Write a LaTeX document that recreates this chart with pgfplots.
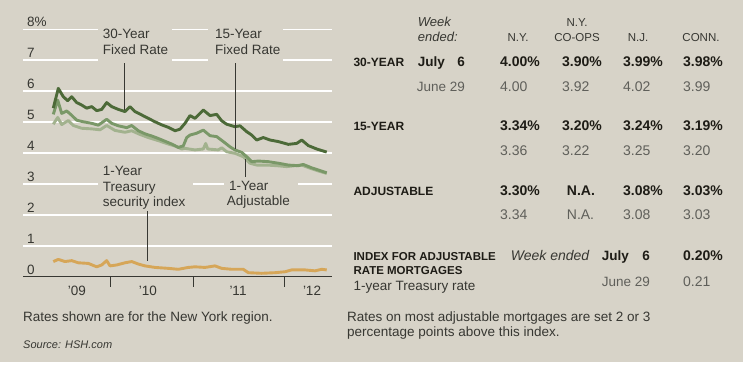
\documentclass[border=0pt]{standalone}
\usepackage{pgfplots}
\pgfplotsset{compat=1.18}
\usepackage{fontspec}
\setmainfont{Liberation Sans}
\definecolor{bg}{RGB}{215,211,200}
\definecolor{txt}{RGB}{55,55,50}
\definecolor{dark}{RGB}{30,28,22}
\definecolor{val}{RGB}{95,95,90}
\definecolor{cthirty}{RGB}{76,106,56}
\definecolor{cfifteen}{RGB}{122,152,104}
\definecolor{cadj}{RGB}{162,178,142}
\definecolor{ctreas}{RGB}{214,166,88}
\newcommand{\fs}[1]{\fontsize{#1bp}{#1bp}\selectfont}
\begin{document}
\begin{tikzpicture}
\begin{scope}[x=1bp,y=-1bp]
\useasboundingbox (0,0) rectangle (750,375);
\fill[white] (0,0) rectangle (750,375);
\fill[bg] (0,0) rectangle (743,362);
\end{scope}
\begin{axis}[at={(23bp,-276.7bp)}, anchor=south west, scale only axis,
  width=309bp, height=247.4bp,
  xmin=23, xmax=332, ymin=0, ymax=8,
  axis x line*=bottom, axis y line*=left,
  y axis line style={draw=none},
  ytick={1,2,3,4,5,6,7,8}, yticklabels={}, ytick style={draw=none},
  ymajorgrids, major grid style={white, line width=1.6bp},
  xtick={110,193,284}, xticklabels={},
  xtick align=outside, major tick length=10bp,
  x axis line style={draw=txt, line width=0.8bp},
  xtick style={draw=txt, line width=0.8bp},
  extra x ticks={77,148,238,312},
  extra x tick labels={’09,’10,’11,’12},
  extra x tick style={major tick length=0pt, grid=none,
    ticklabel style={font=\fs{13.5}, text=txt, yshift=-6bp}},
  clip=false]
\addplot[ctreas, line width=2.9bp, line join=round] coordinates {
(53.3,0.49)(58.3,0.56)(65,0.49)(71.7,0.52)(78.3,0.45)(88.3,0.43)(96.7,0.32)(101.7,0.38)
(106.7,0.52)(110,0.35)(116.7,0.38)(125,0.45)(131.7,0.49)(138.3,0.41)(145,0.35)(155,0.30)
(168.3,0.27)(178.3,0.24)(188.3,0.30)(195,0.32)(205,0.30)(215,0.35)(221.7,0.27)(231.7,0.24)
(243.3,0.24)(248.3,0.13)(261.7,0.11)(275,0.13)(285,0.16)(291.7,0.22)(305,0.22)(315,0.19)
(321.7,0.24)(326.7,0.22)};
\addplot[cadj, line width=2.9bp, line join=round] coordinates {
(53.3,4.93)(57.7,5.15)(61.7,4.92)(68.3,5.05)(73.3,4.89)(81.7,4.80)(91.7,4.78)(100,4.75)
(106.7,4.89)(115,4.73)(125,4.67)(131.7,4.72)(140,4.60)(148.3,4.50)(158.3,4.40)(168.3,4.29)
(176.7,4.21)(181.7,4.13)(185,4.15)(195,4.10)(203.3,4.13)(205.7,4.31)(207.7,4.13)(218.3,4.10)
(221.7,4.17)(226.7,4.04)(235,3.99)(243.3,3.88)(250,3.67)(256.7,3.61)(266.7,3.61)(276.7,3.59)
(286.7,3.56)(295,3.59)(301.7,3.61)(310,3.51)(318.3,3.42)(326.7,3.34)};
\addplot[cfifteen, line width=2.9bp, line join=round] coordinates {
(53.3,5.25)(57.7,5.71)(61.7,5.28)(66.7,5.36)(71.7,5.22)(76.7,5.06)(83.3,5.01)(91.7,4.96)
(98.3,4.90)(106.7,5.09)(111.7,4.96)(118.3,4.88)(126.7,4.82)(131.7,4.89)(138.3,4.72)(145,4.62)
(151.7,4.55)(158.3,4.47)(165,4.38)(171.7,4.29)(178.3,4.18)(183.3,4.23)(186.7,4.50)(190,4.58)
(196.7,4.64)(203.3,4.74)(210,4.56)(216.7,4.53)(223.3,4.37)(230,4.20)(235,4.10)(241.7,4.02)
(246.7,3.88)(251.7,3.72)(258.3,3.74)(268.3,3.72)(278.3,3.67)(288.3,3.61)(298.3,3.59)
(303.3,3.63)(311.7,3.52)(318.3,3.45)(326.7,3.36)};
\addplot[cthirty, line width=2.9bp, line join=round] coordinates {
(53.3,5.45)(58.3,6.09)(63.3,5.82)(67.7,5.69)(71.7,5.82)(76.7,5.63)(81.7,5.55)(86.7,5.45)
(91.7,5.50)(96.7,5.37)(101.7,5.41)(106.7,5.63)(111.7,5.50)(118.3,5.41)(125,5.34)(130,5.50)
(135,5.34)(141.7,5.23)(148.3,5.12)(155,5.01)(161.7,4.91)(168.3,4.83)(175,4.72)(180,4.77)
(185,4.96)(190,5.21)(195,5.12)(203.3,5.39)(210,5.21)(216.7,5.25)(221.7,5.04)(226.7,4.93)
(235,4.85)(240,4.88)(246.7,4.69)(251.7,4.58)(256.7,4.42)(263.3,4.50)(270,4.42)(278.3,4.37)
(288.3,4.28)(296.7,4.31)(301.7,4.42)(308.3,4.24)(316.7,4.13)(326.7,4.03)};
\end{axis}
\begin{scope}[x=1bp,y=-1bp]
% y tick labels
\begin{scope}[every node/.style={anchor=base west, inner sep=0, font=\fs{13.5}, text=txt}]
\node at (27,26.6) {8\%};
\node at (27,57.5) {7};
\node at (27,88.4) {6};
\node at (27,119.4) {5};
\node at (27,150.3) {4};
\node at (27,181.2) {3};
\node at (27,212.1) {2};
\node at (27,243.1) {1};
\node at (27,274.0) {0};
\end{scope}
% annotation backgrounds
\fill[bg] (98,24) rectangle (172,63);
\fill[bg] (208,24) rectangle (283,63);
\fill[bg] (98,163) rectangle (193,210);
\fill[bg] (224,177) rectangle (298,210);
\begin{scope}[every node/.style={anchor=base west, inner sep=0, font=\fs{13.5}, text=txt}]
\node at (102.7,38.3) {30-Year};
\node at (102.7,54.3) {Fixed Rate};
\node at (215,38.3) {15-Year};
\node at (215,54.3) {Fixed Rate};
\node at (102.7,175) {1-Year};
\node at (102.7,191.2) {Treasury};
\node at (102.7,206.7) {security index};
\node at (229,190) {1-Year};
\node at (226.7,205.7) {Adjustable};
\node at (23,321.7) {Rates shown are for the New York region.};
\node[font=\fs{11}\itshape] at (23,348.3) {Source: HSH.com};
\node at (347,321.7) {Rates on most adjustable mortgages are set 2 or 3};
\node at (347,336.5) {percentage points above this index.};
\end{scope}
\draw[txt, line width=0.9bp] (124.3,63) -- (124.3,110);
\draw[txt, line width=0.9bp] (235.3,63) -- (235.3,149);
\draw[txt, line width=0.9bp] (147.7,211) -- (147.7,261);
\draw[txt, line width=0.9bp] (245.7,159) -- (245.7,177);
% table
\begin{scope}[every node/.style={inner sep=0}]
\node[anchor=base west, font=\fs{13}\itshape, text=txt] at (417.7,26) {Week};
\node[anchor=base west, font=\fs{13}\itshape, text=txt] at (417.7,41.7) {ended:};
\node[anchor=base, font=\fs{11.5}, text=txt] at (518,41.7) {N.Y.};
\node[anchor=base, font=\fs{11.5}, text=txt] at (577,26) {N.Y.};
\node[anchor=base, font=\fs{11.5}, text=txt] at (577,41.7) {CO-OPS};
\node[anchor=base, font=\fs{11.5}, text=txt] at (638,41.7) {N.J.};
\node[anchor=base, font=\fs{11.5}, text=txt] at (701,41.7) {CONN.};
% row labels
\node[anchor=base west, font=\fs{12}\bfseries, text=dark] at (353.3,66) {30-YEAR};
\node[anchor=base west, font=\fs{12}\bfseries, text=dark] at (353.3,130) {15-YEAR};
\node[anchor=base west, font=\fs{12}\bfseries, text=dark] at (353.3,195) {ADJUSTABLE};
\node[anchor=base west, font=\fs{11.5}\bfseries, text=dark] at (353.3,260.7) {INDEX FOR ADJUSTABLE};
\node[anchor=base west, font=\fs{11.5}\bfseries, text=dark] at (353.3,274.3) {RATE MORTGAGES};
\node[anchor=base west, font=\fs{13.5}, text=txt] at (353.3,290) {1-year Treasury rate};
% dates
\node[anchor=base west, font=\fs{13.5}\bfseries, text=dark] at (417.7,66) {July};
\node[anchor=base east, font=\fs{13.5}\bfseries, text=dark] at (465,66) {6};
\node[anchor=base east, font=\fs{13.5}, text=val] at (465,91.7) {June 29};
% values bold
\begin{scope}[every node/.append style={anchor=base west, font=\fs{14}\bfseries, text=dark}]
\node at (500,66) {4.00\%}; \node at (562,66) {3.90\%}; \node at (623,66) {3.99\%}; \node at (683,66) {3.98\%};
\node at (500,130) {3.34\%}; \node at (562,130) {3.20\%}; \node at (623,130) {3.24\%}; \node at (683,130) {3.19\%};
\node at (500,195) {3.30\%}; \node at (566.7,195) {N.A.}; \node at (623,195) {3.08\%}; \node at (683,195) {3.03\%};
\node at (683,260.7) {0.20\%};
\end{scope}
\begin{scope}[every node/.append style={anchor=base west, font=\fs{14}, text=val}]
\node at (500,91.7) {4.00}; \node at (562,91.7) {3.92}; \node at (623,91.7) {4.02}; \node at (683,91.7) {3.99};
\node at (500,155.3) {3.36}; \node at (562,155.3) {3.22}; \node at (623,155.3) {3.25}; \node at (683,155.3) {3.20};
\node at (500,219.3) {3.34}; \node at (566.7,219.3) {N.A.}; \node at (623,219.3) {3.08}; \node at (683,219.3) {3.03};
\node at (683,286) {0.21};
\end{scope}
\node[anchor=base west, font=\fs{14}\itshape, text=txt] at (510.7,260.7) {Week ended};
\node[anchor=base west, font=\fs{13.5}\bfseries, text=dark] at (601.7,260.7) {July};
\node[anchor=base east, font=\fs{13.5}\bfseries, text=dark] at (650,260.7) {6};
\node[anchor=base east, font=\fs{13.5}, text=val] at (650,286) {June 29};
\end{scope}
\end{scope}
\end{tikzpicture}
\end{document}
